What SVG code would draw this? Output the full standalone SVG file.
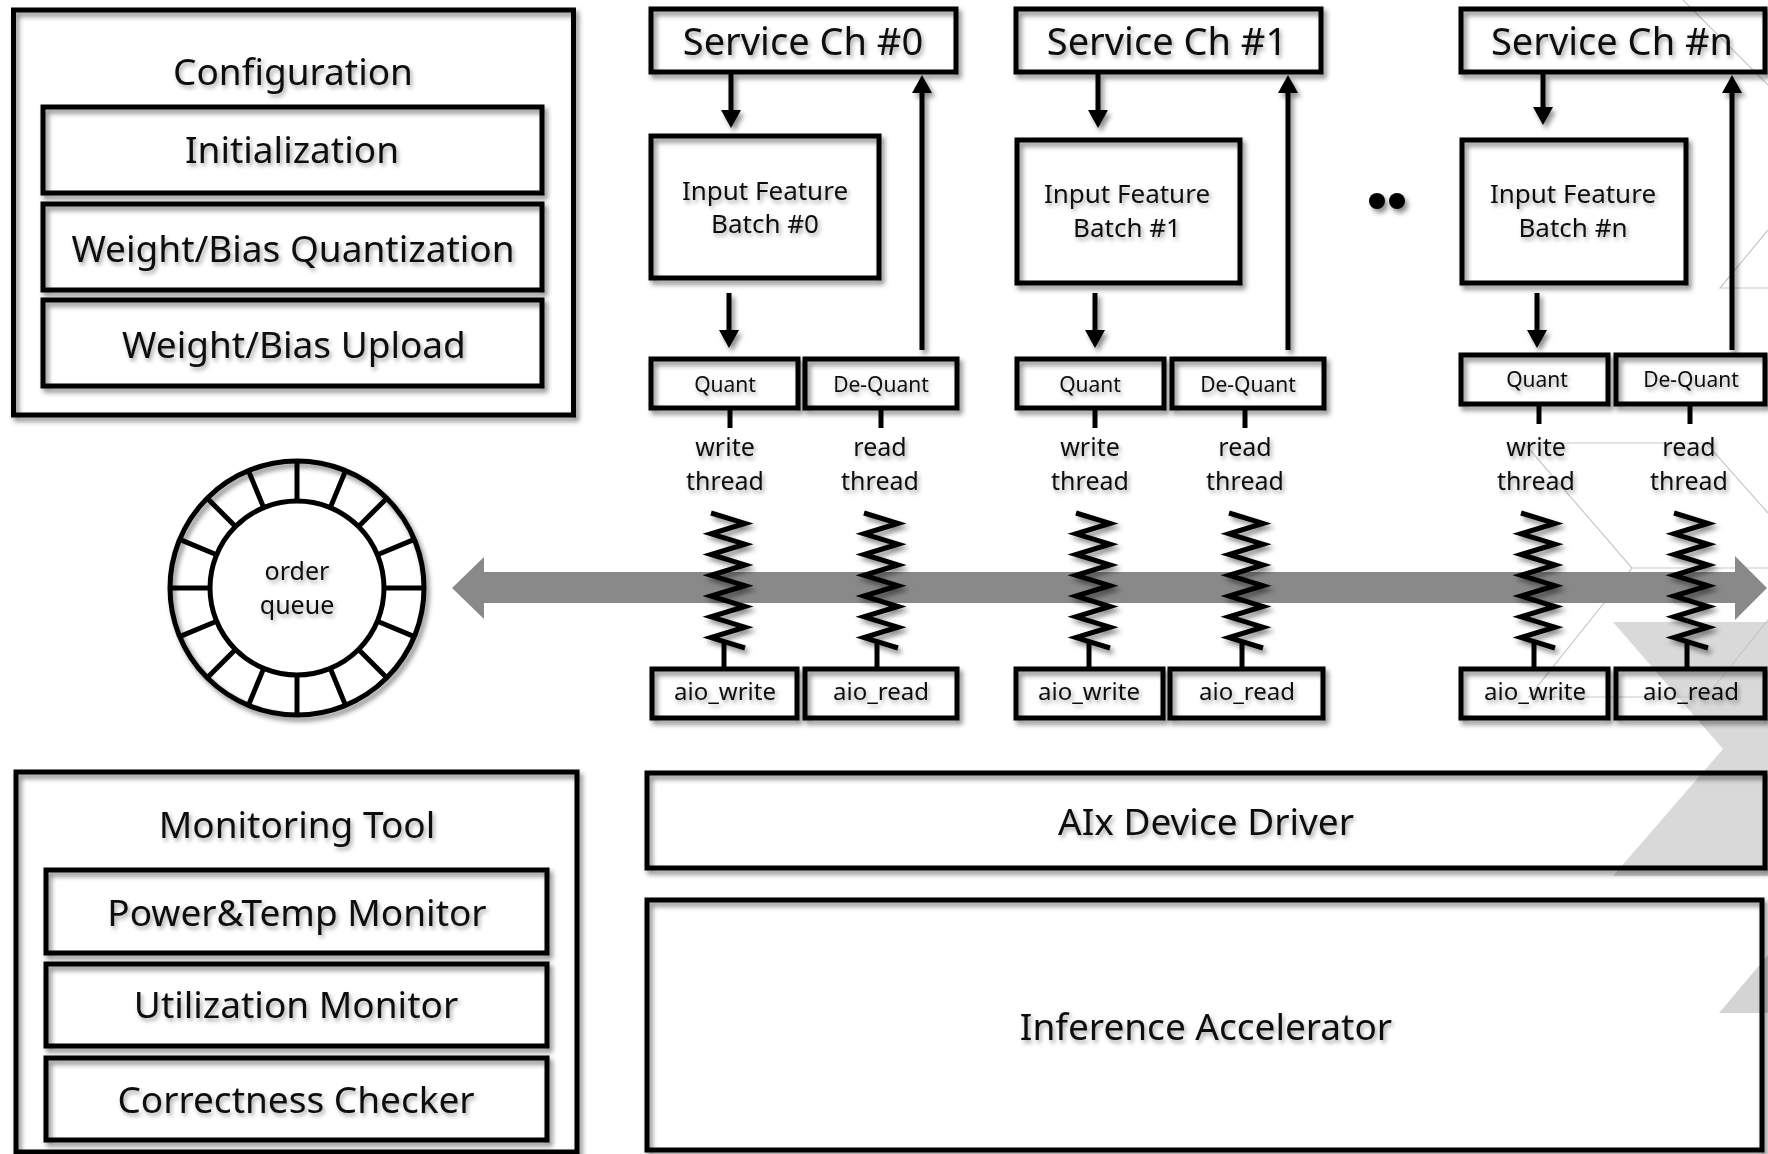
<svg xmlns="http://www.w3.org/2000/svg" xmlns:xlink="http://www.w3.org/1999/xlink" width="1768" height="1154" viewBox="0 0 1768 1154">
<defs>
<filter id="sh" filterUnits="userSpaceOnUse" x="0" y="0" width="1768" height="1154">
<feDropShadow dx="3" dy="4" stdDeviation="2.5" flood-color="#000" flood-opacity="0.45"/>
</filter>
<filter id="tsh" filterUnits="userSpaceOnUse" x="0" y="0" width="1768" height="1154">
<feDropShadow dx="2" dy="3" stdDeviation="2" flood-color="#000" flood-opacity="0.35"/>
</filter>
<marker id="ah" markerUnits="userSpaceOnUse" markerWidth="18" markerHeight="20" viewBox="0 0 18 20" refX="8" refY="10" orient="auto">
<path d="M0,0 L18,10 L0,20 z" fill="#000"/>
</marker>
<line id="spoke" x1="384" y1="588" x2="424" y2="588"/>
</defs>
<style>
.box{fill:none;stroke:#000;stroke-width:5;filter:url(#sh)}
.t{font-family:"Noto Sans","Open Sans","DejaVu Sans",sans-serif;fill:#111;text-anchor:middle;filter:url(#tsh)}
.big{font-size:37px}
.svc{font-size:38px}
.mid{font-size:26px}
.thr{font-size:25px}
.sm{font-size:21px}
.aio{font-size:24px}
.arr{stroke:#000;stroke-width:5;fill:none;marker-end:url(#ah);filter:url(#sh)}
.stem{stroke:#000;stroke-width:5;fill:none}
.spring{fill:none;stroke:#000;stroke-width:5;stroke-linejoin:miter;filter:url(#sh)}
.deco{fill:none;stroke:#c8c8c8;stroke-width:1.2}
.ring{fill:none;stroke:#000;stroke-width:5}
</style>
<rect width="1768" height="1154" fill="#fff"/>

<g id="background">
<polygon points="1613,622 1768,622 1768,876 1613,876 1723,749" fill="#d9d9d9"/>
<polygon points="1719,1013 1768,1013 1768,955" fill="#d4d4d4"/>
<polyline class="deco" points="1683,0 1768,85"/>
<polyline class="deco" points="1768,230 1720,288 1768,288"/>
<polyline class="deco" points="1524,443 1706,443 1768,513"/>
<polyline class="deco" points="1524,443 1632,568 1529,697 1706,697 1768,620"/>
<polyline class="deco" points="1632,568 1768,568"/>
</g>

<g id="bus">
<polygon points="452,588 484,557 484,572 1735,572 1735,556 1767,588 1735,620 1735,603 484,603 484,619" fill="#898989"/>
</g>

<g id="configuration">
<rect class="box" x="13.5" y="10" width="560" height="405"/>
<text class="t big" x="293" y="85">Configuration</text>
</g>
<g id="initialization">
<rect class="box" x="43" y="107" width="499" height="86"/>
<text class="t big" x="292" y="163">Initialization</text>
</g>
<g id="wb-quant">
<rect class="box" x="43" y="204" width="499" height="86"/>
<text class="t big" x="293" y="262">Weight/Bias Quantization</text>
</g>
<g id="wb-upload">
<rect class="box" x="43" y="300" width="499" height="86"/>
<text class="t big" x="294" y="358">Weight/Bias Upload</text>
</g>

<g id="svc0">
<rect class="box" x="651" y="9" width="305" height="63"/>
<text class="t svc" x="803" y="55">Service Ch #0</text>
</g>
<g id="svc1">
<rect class="box" x="1016" y="9" width="305" height="63"/>
<text class="t svc" x="1167" y="55">Service Ch #1</text>
</g>
<g id="svcn">
<rect class="box" x="1461" y="9" width="304" height="63"/>
<text class="t svc" x="1612" y="55">Service Ch #n</text>
</g>

<g id="batch0">
<rect class="box" x="651" y="136" width="228" height="142"/>
<text class="t mid" x="765" y="200">Input Feature</text>
<text class="t mid" x="765" y="233">Batch #0</text>
</g>
<g id="batch1">
<rect class="box" x="1017" y="140" width="223" height="143"/>
<text class="t mid" x="1127" y="203">Input Feature</text>
<text class="t mid" x="1127" y="237">Batch #1</text>
</g>
<g id="batchn">
<rect class="box" x="1462" y="140" width="224" height="143"/>
<text class="t mid" x="1573" y="203">Input Feature</text>
<text class="t mid" x="1573" y="237">Batch #n</text>
</g>

<g id="ellipsis">
<circle cx="1377" cy="201" r="8" fill="#000" filter="url(#sh)"/>
<circle cx="1397" cy="201" r="8" fill="#000" filter="url(#sh)"/>
</g>

<g id="quant0">
<rect class="box" x="651" y="359" width="147" height="49"/>
<text class="t sm" x="725" y="392">Quant</text>
</g>
<g id="dequant0">
<rect class="box" x="805" y="359" width="152" height="49"/>
<text class="t sm" x="881" y="392">De-Quant</text>
</g>
<g id="quant1">
<rect class="box" x="1017" y="359" width="147" height="49"/>
<text class="t sm" x="1090" y="392">Quant</text>
</g>
<g id="dequant1">
<rect class="box" x="1172" y="359" width="152" height="49"/>
<text class="t sm" x="1248" y="392">De-Quant</text>
</g>
<g id="quantn">
<rect class="box" x="1461" y="355" width="147" height="49"/>
<text class="t sm" x="1537" y="387">Quant</text>
</g>
<g id="dequantn">
<rect class="box" x="1616" y="355" width="149" height="49"/>
<text class="t sm" x="1691" y="387">De-Quant</text>
</g>

<g id="thread-labels">
<text class="t thr" x="725" y="456">write</text>
<text class="t thr" x="725" y="490">thread</text>
<text class="t thr" x="880" y="456">read</text>
<text class="t thr" x="880" y="490">thread</text>
<text class="t thr" x="1090" y="456">write</text>
<text class="t thr" x="1090" y="490">thread</text>
<text class="t thr" x="1245" y="456">read</text>
<text class="t thr" x="1245" y="490">thread</text>
<text class="t thr" x="1536" y="456">write</text>
<text class="t thr" x="1536" y="490">thread</text>
<text class="t thr" x="1689" y="456">read</text>
<text class="t thr" x="1689" y="490">thread</text>
</g>

<g id="aio_w0">
<rect class="box" x="652" y="669" width="145" height="49"/>
<text class="t aio" x="725" y="700">aio_write</text>
</g>
<g id="aio_r0">
<rect class="box" x="805" y="669" width="152" height="49"/>
<text class="t aio" x="881" y="700">aio_read</text>
</g>
<g id="aio_w1">
<rect class="box" x="1016" y="669" width="147" height="49"/>
<text class="t aio" x="1089" y="700">aio_write</text>
</g>
<g id="aio_r1">
<rect class="box" x="1170" y="669" width="153" height="49"/>
<text class="t aio" x="1247" y="700">aio_read</text>
</g>
<g id="aio_wn">
<rect class="box" x="1461" y="669" width="147" height="49"/>
<text class="t aio" x="1535" y="700">aio_write</text>
</g>
<g id="aio_rn">
<rect class="box" x="1616" y="669" width="149" height="49"/>
<text class="t aio" x="1691" y="700">aio_read</text>
</g>

<g id="order-queue">
<circle class="ring" cx="297" cy="588" r="127" filter="url(#sh)"/>
<circle class="ring" cx="297" cy="588" r="87"/>
<g class="ring" stroke="#000" stroke-width="5">
<use xlink:href="#spoke"/>
<use xlink:href="#spoke" transform="rotate(22.5 297 588)"/>
<use xlink:href="#spoke" transform="rotate(45 297 588)"/>
<use xlink:href="#spoke" transform="rotate(67.5 297 588)"/>
<use xlink:href="#spoke" transform="rotate(90 297 588)"/>
<use xlink:href="#spoke" transform="rotate(112.5 297 588)"/>
<use xlink:href="#spoke" transform="rotate(135 297 588)"/>
<use xlink:href="#spoke" transform="rotate(157.5 297 588)"/>
<use xlink:href="#spoke" transform="rotate(180 297 588)"/>
<use xlink:href="#spoke" transform="rotate(202.5 297 588)"/>
<use xlink:href="#spoke" transform="rotate(225 297 588)"/>
<use xlink:href="#spoke" transform="rotate(247.5 297 588)"/>
<use xlink:href="#spoke" transform="rotate(270 297 588)"/>
<use xlink:href="#spoke" transform="rotate(292.5 297 588)"/>
<use xlink:href="#spoke" transform="rotate(315 297 588)"/>
<use xlink:href="#spoke" transform="rotate(337.5 297 588)"/>
</g>
<text class="t thr" x="297" y="580">order</text>
<text class="t thr" x="297" y="614">queue</text>
</g>

<g id="monitoring">
<rect class="box" x="16" y="772" width="561" height="380"/>
<text class="t big" x="297" y="838">Monitoring Tool</text>
</g>
<g id="power">
<rect class="box" x="46" y="870" width="501" height="83"/>
<text class="t big" x="297" y="926">Power&amp;Temp Monitor</text>
</g>
<g id="util">
<rect class="box" x="46" y="964" width="501" height="82"/>
<text class="t big" x="296" y="1018">Utilization Monitor</text>
</g>
<g id="correct">
<rect class="box" x="46" y="1058" width="501" height="82"/>
<text class="t big" x="296" y="1113">Correctness Checker</text>
</g>

<g id="driver">
<rect class="box" x="647" y="773" width="1118" height="95"/>
<text class="t big" x="1206" y="835">AIx Device Driver</text>
</g>
<g id="accelerator">
<rect class="box" x="647" y="900" width="1115" height="250"/>
<text class="t big" x="1206" y="1040">Inference Accelerator</text>
</g>

<g id="connectors">
<line class="arr" x1="731" y1="74" x2="731" y2="118"/>
<line class="arr" x1="729" y1="293" x2="729" y2="338"/>
<line class="arr" x1="922" y1="350" x2="922" y2="85"/>
<line class="arr" x1="1098" y1="74" x2="1098" y2="118"/>
<line class="arr" x1="1095" y1="293" x2="1095" y2="338"/>
<line class="arr" x1="1288" y1="350" x2="1288" y2="85"/>
<line class="arr" x1="1543" y1="74" x2="1543" y2="115"/>
<line class="arr" x1="1537" y1="293" x2="1537" y2="338"/>
<line class="arr" x1="1732" y1="350" x2="1732" y2="85"/>

<line class="stem" x1="730" y1="408" x2="730" y2="428"/>
<line class="stem" x1="881" y1="408" x2="881" y2="428"/>
<line class="stem" x1="1095" y1="408" x2="1095" y2="428"/>
<line class="stem" x1="1245" y1="408" x2="1245" y2="428"/>
<line class="stem" x1="1539" y1="404" x2="1539" y2="424"/>
<line class="stem" x1="1690" y1="404" x2="1690" y2="424"/>

<polyline class="spring" points="711,513 745,523.4 711,533.8 745,544.2 711,554.5 745,564.9 711,575.3 745,585.7 711,596.1 745,606.5 711,616.8 745,627.2 711,637.6 745,648"/>
<line class="stem" x1="724" y1="643" x2="724" y2="667"/>
<polyline class="spring" points="864,513 898,523.4 864,533.8 898,544.2 864,554.5 898,564.9 864,575.3 898,585.7 864,596.1 898,606.5 864,616.8 898,627.2 864,637.6 898,648"/>
<line class="stem" x1="877" y1="643" x2="877" y2="667"/>
<polyline class="spring" points="1076,513 1110,523.4 1076,533.8 1110,544.2 1076,554.5 1110,564.9 1076,575.3 1110,585.7 1076,596.1 1110,606.5 1076,616.8 1110,627.2 1076,637.6 1110,648"/>
<line class="stem" x1="1089" y1="643" x2="1089" y2="667"/>
<polyline class="spring" points="1229,513 1263,523.4 1229,533.8 1263,544.2 1229,554.5 1263,564.9 1229,575.3 1263,585.7 1229,596.1 1263,606.5 1229,616.8 1263,627.2 1229,637.6 1263,648"/>
<line class="stem" x1="1242" y1="643" x2="1242" y2="667"/>
<polyline class="spring" points="1521,513 1555,523.4 1521,533.8 1555,544.2 1521,554.5 1555,564.9 1521,575.3 1555,585.7 1521,596.1 1555,606.5 1521,616.8 1555,627.2 1521,637.6 1555,648"/>
<line class="stem" x1="1534" y1="643" x2="1534" y2="667"/>
<polyline class="spring" points="1674,513 1708,523.4 1674,533.8 1708,544.2 1674,554.5 1708,564.9 1674,575.3 1708,585.7 1674,596.1 1708,606.5 1674,616.8 1708,627.2 1674,637.6 1708,648"/>
<line class="stem" x1="1687" y1="643" x2="1687" y2="667"/>
</g>
</svg>
